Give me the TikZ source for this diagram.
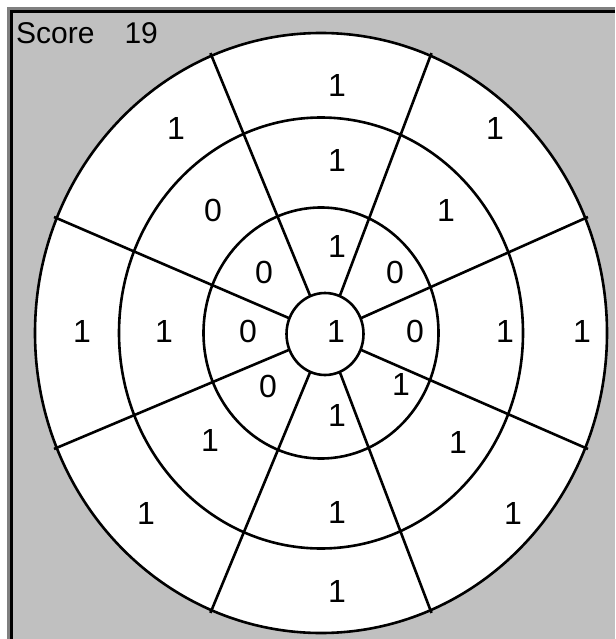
\documentclass[tikz,border=0pt]{standalone}
\usepackage{fontspec}
\setmainfont{Liberation Sans}
\usetikzlibrary{calc}
\definecolor{colPanel}{RGB}{192,192,192}
\definecolor{colShadow}{RGB}{128,128,128}
\tikzset{
  ring/.style={draw=black, line width=2.6pt},
  spoke/.style={draw=black, line width=2.6pt, shorten >=-3pt},
  val/.style={font=\fontsize{32}{32}\selectfont, inner sep=0pt},
  scoreText/.style={font=\fontsize{30}{30}\selectfont, inner sep=0pt}
}

\begin{document}
\begin{tikzpicture}[x=1pt, y=-1pt]
  \useasboundingbox (0,0) rectangle (615,639);

  % window panel
  \fill[white] (0,0) rectangle (615,639);
  \fill[colPanel] (7,7) rectangle (615,639);
  \draw[colShadow, line width=3pt] (8.5,639) -- (8.5,8.5) -- (615,8.5);
  \draw[black, line width=3pt] (11.5,639) -- (11.5,11.5) -- (615,11.5);

  \node[scoreText, anchor=base west] (score) at (16,44) {Score\hspace{30pt}19};

  % target
  \coordinate (c) at (321,333);
  \coordinate (ci) at (325,334);
  \fill[white] (c) ellipse [x radius=286pt, y radius=300pt];
  \draw[ring] (c) ellipse [x radius=286pt, y radius=300pt];
  \draw[ring] (c) ellipse [x radius=202pt, y radius=215.5pt];
  \draw[ring] (c) ellipse [x radius=117.5pt, y radius=125.5pt];
  \draw[ring] (ci) ellipse [x radius=38.5pt, y radius=41pt];

  % spokes
  \foreach \a [count=\k] in {22.5,67.5,...,337.5} {
    \coordinate (in\k) at ($(ci)+(\a:38.5pt and 41pt)$);
    \coordinate (out\k) at ($(c)+(\a:286pt and 300pt)$);
    \draw[spoke] (in\k) -- (out\k);
  }

  % values
  \foreach \x/\y/\v [count=\k] in {
      336/331/1,
      337/246/1, 395/272/0, 415/331/0, 401/384/1,
      337/415/1, 268/386/0, 248/331/0, 264/272/0,
      337/160/1, 446/210/1, 505/331/1, 458/442/1,
      337/512/1, 210/440/1, 164/331/1, 213/210/0,
      337/85/1, 495/128/1, 582/331/1, 513/513/1,
      337/591/1, 146/513/1, 82/331/1, 176/128/1} {
    \node[val] (v\k) at (\x,\y) {\v};
  }
\end{tikzpicture}
\end{document}
